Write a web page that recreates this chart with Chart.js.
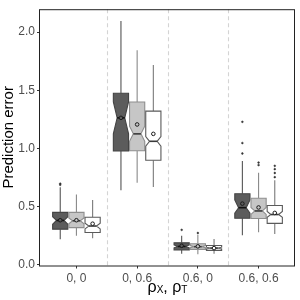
<!DOCTYPE html>
<html>
<head>
<meta charset="utf-8">
<script src="https://cdn.jsdelivr.net/npm/chart.js@4/dist/chart.umd.min.js"></script>
<style>
html,body{margin:0;padding:0;background:#fff;}
#wrap{width:300px;height:300px;}
</style>
</head>
<body>
<div id="wrap"><canvas id="c" width="300" height="300"></canvas></div>
<script>
// ---- data ----
const categories = ['0, 0', '0, 0.6', '0.6, 0', '0.6, 0.6'];
const yTicks = [0, 0.5, 1.0, 1.5, 2.0];
const seriesNames = ['Method 1', 'Method 2', 'Method 3'];

// series 1 (dark grey)
const s1WhiskerLo = [0.217, 0.639, 0.092, 0.250];
const s1Q1        = [0.303, 0.976, 0.123, 0.397];
const s1Median    = [0.378, 1.262, 0.154, 0.488];
const s1Q3        = [0.448, 1.474, 0.185, 0.608];
const s1WhiskerHi = [0.665, 2.097, 0.246, 0.890];
const s1Mean      = [0.380, 1.262, 0.160, 0.523];
const s1NotchLo   = [0.345, 1.125, 0.142, 0.440];
const s1NotchHi   = [0.410, 1.400, 0.167, 0.555];
const s1Outliers  = [[0.685, 0.695], [], [0.297], [0.955, 1.045, 1.228]];

// series 2 (light grey)
const s2WhiskerLo = [0.246, 0.703, 0.087, 0.276];
const s2Q1        = [0.316, 0.978, 0.129, 0.395];
const s2Median    = [0.375, 1.124, 0.152, 0.460];
const s2Q3        = [0.448, 1.398, 0.177, 0.569];
const s2WhiskerHi = [0.602, 1.844, 0.255, 0.790];
const s2Mean      = [0.380, 1.205, 0.155, 0.490];
const s2NotchLo   = [0.350, 1.060, 0.143, 0.430];
const s2NotchHi   = [0.400, 1.190, 0.161, 0.490];
const s2Outliers  = [[], [], [0.270], [0.855, 0.877]];

// series 3 (white)
const s3WhiskerLo = [0.224, 0.667, 0.092, 0.262];
const s3Q1        = [0.274, 0.897, 0.120, 0.353];
const s3Median    = [0.330, 1.060, 0.140, 0.429];
const s3Q3        = [0.406, 1.320, 0.162, 0.507];
const s3WhiskerHi = [0.555, 1.718, 0.219, 0.725];
const s3Mean      = [0.350, 1.124, 0.140, 0.443];
const s3NotchLo   = [0.305, 1.018, 0.132, 0.405];
const s3NotchHi   = [0.355, 1.100, 0.148, 0.455];
const s3Outliers  = [[], [], [], [0.751, 0.787, 0.820, 0.849]];

// ---- styling / layout ----
const series = [
  {wlo:s1WhiskerLo,q1:s1Q1,med:s1Median,q3:s1Q3,whi:s1WhiskerHi,mean:s1Mean,nlo:s1NotchLo,nhi:s1NotchHi,out:s1Outliers,
   fill:'#5c5c5c',stroke:'#444444',whisker:'#555555',medCol:'#111111'},
  {wlo:s2WhiskerLo,q1:s2Q1,med:s2Median,q3:s2Q3,whi:s2WhiskerHi,mean:s2Mean,nlo:s2NotchLo,nhi:s2NotchHi,out:s2Outliers,
   fill:'#c6c6c6',stroke:'#8e8e8e',whisker:'#8a8a8a',medCol:'#3a3a3a'},
  {wlo:s3WhiskerLo,q1:s3Q1,med:s3Median,q3:s3Q3,whi:s3WhiskerHi,mean:s3Mean,nlo:s3NotchLo,nhi:s3NotchHi,out:s3Outliers,
   fill:'#ffffff',stroke:'#5a5a5a',whisker:'#7a7a7a',medCol:'#3a3a3a'}
];
const dodge = 0.2667;
const offsets = [-dodge, 0, dodge];
const boxHalf = dodge / 2;
const FONT = '"Liberation Sans", Arial, sans-serif';

const datasets = [];
series.forEach((s, si) => {
  datasets.push({
    label: seriesNames[si] + ' mean',
    data: s.mean.map((m, g) => ({x: g + offsets[si], y: m})),
    pointStyle: 'circle', pointRadius: 1.8, borderWidth: 1,
    borderColor: '#1a1a1a', backgroundColor: s.fill, order: 1
  });
  const pts = [];
  s.out.forEach((arr, g) => arr.forEach(v => pts.push({x: g + offsets[si], y: v})));
  datasets.push({
    label: seriesNames[si] + ' outliers',
    data: pts, pointStyle: 'circle', pointRadius: 0.9, borderWidth: 0.5,
    borderColor: '#333', backgroundColor: '#333', order: 2
  });
});

const boxPlugin = {
  id: 'boxes',
  beforeDatasetsDraw(chart) {
    const ctx = chart.ctx, xs = chart.scales.x, ys = chart.scales.y, a = chart.chartArea;
    ctx.save();
    // separators between categories
    ctx.strokeStyle = '#d4d4d4'; ctx.lineWidth = 1.1; ctx.setLineDash([4, 3]);
    for (let i = 0; i < categories.length - 1; i++) {
      const px = Math.round(xs.getPixelForValue(i + 0.5)) + 0.5;
      ctx.beginPath(); ctx.moveTo(px, a.top); ctx.lineTo(px, a.bottom); ctx.stroke();
    }
    ctx.setLineDash([]);
    series.forEach((s, si) => {
      categories.forEach((c, g) => {
        const cx = g + offsets[si];
        const xl = xs.getPixelForValue(cx - boxHalf) + 0.5;
        const xr = xs.getPixelForValue(cx + boxHalf) - 0.5;
        const xm = xs.getPixelForValue(cx);
        const inset = (xr - xl) / 4;
        const Y = v => ys.getPixelForValue(v);
        // whiskers
        ctx.strokeStyle = s.whisker; ctx.lineWidth = 1.1;
        ctx.beginPath();
        ctx.moveTo(xm, Y(s.q3[g])); ctx.lineTo(xm, Y(s.whi[g]));
        ctx.moveTo(xm, Y(s.q1[g])); ctx.lineTo(xm, Y(s.wlo[g]));
        ctx.stroke();
        // notched box
        ctx.beginPath();
        ctx.moveTo(xl, Y(s.q3[g]));
        ctx.lineTo(xr, Y(s.q3[g]));
        ctx.lineTo(xr, Y(s.nhi[g]));
        ctx.lineTo(xr - inset, Y(s.med[g]));
        ctx.lineTo(xr, Y(s.nlo[g]));
        ctx.lineTo(xr, Y(s.q1[g]));
        ctx.lineTo(xl, Y(s.q1[g]));
        ctx.lineTo(xl, Y(s.nlo[g]));
        ctx.lineTo(xl + inset, Y(s.med[g]));
        ctx.lineTo(xl, Y(s.nhi[g]));
        ctx.closePath();
        ctx.fillStyle = s.fill; ctx.fill();
        ctx.strokeStyle = s.stroke; ctx.lineWidth = 1.1; ctx.stroke();
        // median
        ctx.strokeStyle = s.medCol; ctx.lineWidth = 1.6;
        ctx.beginPath();
        ctx.moveTo(xl + inset, Y(s.med[g])); ctx.lineTo(xr - inset, Y(s.med[g]));
        ctx.stroke();
      });
    });
    ctx.restore();
  },
  afterDraw(chart) {
    const ctx = chart.ctx, a = chart.chartArea;
    ctx.save();
    ctx.strokeStyle = '#222'; ctx.lineWidth = 1;
    ctx.strokeRect(a.left - 0.5, a.top + 0.5, a.right - a.left, a.bottom - a.top);
    // x axis title with subscripts
    const parts = [['ρ', 16, 0], ['X', 10, 0.5], [', ', 16, 0], ['ρ', 16, 0], ['T', 10, 0.5]];
    let total = 0;
    parts.forEach(p => { ctx.font = p[1] + 'px ' + FONT; total += ctx.measureText(p[0]).width; });
    let x = (a.left + a.right) / 2 - total / 2;
    const base = 292;
    ctx.fillStyle = '#000'; ctx.textBaseline = 'alphabetic'; ctx.textAlign = 'left';
    parts.forEach(p => {
      ctx.font = p[1] + 'px ' + FONT;
      ctx.fillText(p[0], x, base + p[2]);
      x += ctx.measureText(p[0]).width;
    });
    ctx.restore();
  }
};

new Chart(document.getElementById('c'), {
  type: 'scatter',
  data: {datasets},
  plugins: [boxPlugin],
  options: {
    responsive: false, animation: false, devicePixelRatio: 1,
    layout: {padding: {top: 3, right: 4, left: 0, bottom: 0}},
    plugins: {legend: {display: false}, tooltip: {enabled: false}},
    scales: {
      x: {
        type: 'linear', min: -0.6, max: 3.6,
        afterBuildTicks: s => { s.ticks = categories.map((c, i) => ({value: i})); },
        afterFit: s => { s.height = 34.5; },
        ticks: {callback: v => categories[v] ?? '', color: '#4d4d4d', font: {family: FONT, size: 12}, padding: 3, maxRotation: 0, autoSkip: false},
        grid: {drawOnChartArea: false, drawTicks: true, tickLength: 3, color: '#333'},
        border: {display: false}
      },
      y: {
        min: -0.01, max: 2.198,
        afterBuildTicks: s => { s.ticks = yTicks.map(v => ({value: v})); },
        afterFit: s => { s.width = 40; },
        ticks: {callback: v => Number(v).toFixed(1), color: '#4d4d4d', font: {family: FONT, size: 12}, padding: 2},
        grid: {drawOnChartArea: false, drawTicks: true, tickLength: 3, color: '#333'},
        border: {display: false},
        title: {display: true, text: 'Prediction error', color: '#000', font: {family: FONT, size: 15}, padding: {top: 0, bottom: 0}}
      }
    }
  }
});
</script>
</body>
</html>
